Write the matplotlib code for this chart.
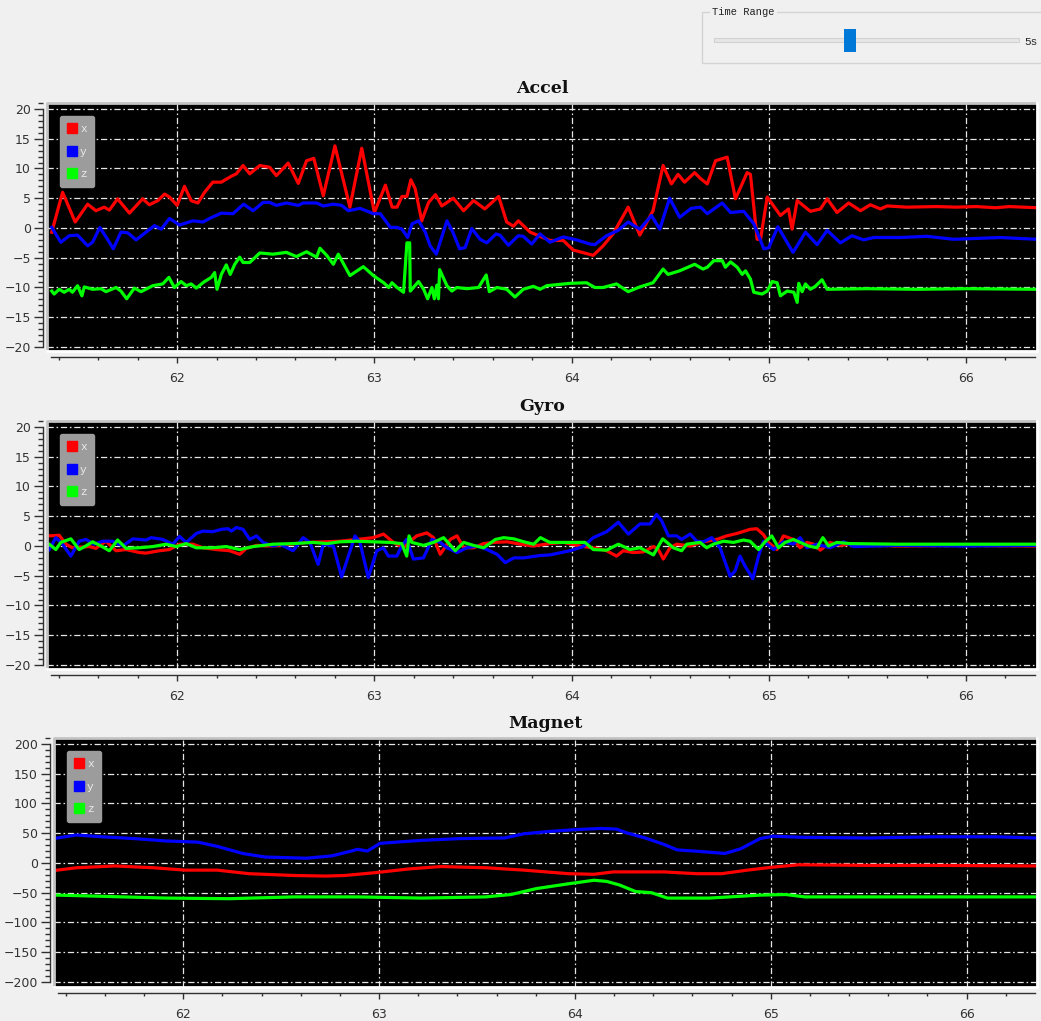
import matplotlib.pyplot as plt
from matplotlib.lines import Line2D
from matplotlib.patches import Rectangle
from matplotlib.ticker import MultipleLocator

# ---------------- accelerometer ----------------
acc_x_t = [61.364, 61.419, 61.483, 61.546, 61.588, 61.630, 61.656, 61.698, 61.758, 61.825,
           61.859, 61.902, 61.936, 61.961, 62.000, 62.037, 62.071, 62.105, 62.139, 62.181,
           62.224, 62.275, 62.300, 62.334, 62.368, 62.419, 62.469, 62.503, 62.563, 62.614,
           62.656, 62.693, 62.741, 62.800, 62.876, 62.936, 63.000, 63.056, 63.090, 63.115,
           63.140, 63.165, 63.185, 63.207, 63.240, 63.275, 63.310, 63.342, 63.400, 63.452,
           63.503, 63.560, 63.630, 63.671, 63.705, 63.730, 63.790, 63.890, 63.958, 64.008,
           64.110, 64.160, 64.210, 64.287, 64.346, 64.413, 64.464, 64.506, 64.540, 64.573,
           64.624, 64.654, 64.688, 64.730, 64.789, 64.831, 64.890, 64.907, 64.941, 64.958,
           64.992, 65.059, 65.100, 65.118, 65.144, 65.211, 65.262, 65.296, 65.346, 65.405,
           65.465, 65.515, 65.566, 65.600, 65.700, 65.850, 65.950, 66.050, 66.150, 66.220,
           66.360]
acc_x_v = [-0.7, 6.0, 1.0, 4.0, 2.9, 3.5, 3.0, 4.9, 2.5, 4.9,
           3.9, 4.6, 5.7, 5.2, 3.8, 7.0, 4.6, 4.2, 6.0, 7.7,
           7.7, 8.7, 9.1, 10.5, 9.1, 10.5, 10.2, 8.8, 10.9, 7.5,
           11.3, 11.7, 5.4, 13.8, 3.5, 13.4, 2.6, 7.2, 3.5, 3.5,
           5.3, 5.3, 8.1, 6.6, 1.2, 4.3, 5.6, 3.7, 5.0, 2.9,
           4.6, 3.2, 5.3, 1.0, 0.3, 1.2, -0.7, -2.1, -2.1, -3.7,
           -4.6, -3.0, -1.0, 3.5, -1.2, 2.9, 10.5, 7.4, 9.0, 7.7,
           9.3, 8.3, 7.4, 11.3, 11.9, 4.9, 9.3, 9.0, -1.9, -1.9,
           5.2, 2.1, 3.2, -0.2, 4.6, 2.8, 3.2, 4.9, 2.6, 4.2,
           2.9, 3.9, 3.2, 3.7, 3.5, 3.6, 3.5, 3.6, 3.4, 3.6,
           3.4]

acc_y_t = [61.364, 61.410, 61.453, 61.495, 61.546, 61.571, 61.608, 61.647, 61.676, 61.715,
           61.749, 61.792, 61.842, 61.885, 61.919, 61.961, 62.012, 62.080, 62.131, 62.164,
           62.224, 62.283, 62.337, 62.385, 62.436, 62.469, 62.503, 62.554, 62.614, 62.639,
           62.707, 62.741, 62.792, 62.834, 62.868, 62.927, 62.995, 63.030, 63.081, 63.115,
           63.140, 63.169, 63.191, 63.224, 63.258, 63.283, 63.314, 63.368, 63.398, 63.432,
           63.460, 63.494, 63.536, 63.570, 63.617, 63.637, 63.680, 63.730, 63.755, 63.798,
           63.840, 63.890, 63.958, 64.025, 64.093, 64.118, 64.177, 64.236, 64.287, 64.346,
           64.405, 64.447, 64.497, 64.548, 64.607, 64.654, 64.688, 64.764, 64.806, 64.873,
           64.924, 64.975, 65.000, 65.046, 65.123, 65.186, 65.245, 65.296, 65.363, 65.422,
           65.481, 65.532, 65.667, 65.802, 65.938, 66.174, 66.360]
acc_y_v = [0.1, -2.4, -1.3, -1.2, -3.0, -2.4, 0.1, -1.9, -3.5, -0.7,
           -0.8, -2.0, -0.7, 0.4, -0.2, 1.6, 0.5, 1.2, 1.0, 1.6,
           2.5, 2.4, 4.0, 2.9, 4.3, 4.3, 3.8, 4.2, 3.8, 4.2,
           4.2, 3.7, 4.0, 3.8, 2.9, 3.3, 2.4, 2.4, 0.1, 0.1,
           -0.2, -1.6, 0.7, 1.2, -0.7, -3.0, -4.4, 1.2, -0.7, -3.5,
           -3.3, -0.1, -1.9, -2.5, -1.0, -1.2, -2.9, -1.3, -1.4, -2.7,
           -1.0, -2.4, -1.5, -2.0, -2.7, -2.8, -1.3, -0.4, 1.0, -0.2,
           2.1, -0.2, 5.0, 1.8, 3.3, 3.5, 2.4, 4.2, 2.6, 2.8,
           0.7, -3.5, -3.3, 0.2, -4.1, -0.7, -2.8, -0.4, -2.5, -1.3,
           -2.0, -1.6, -1.6, -1.4, -1.9, -1.6, -1.9]

acc_z_t = [61.364, 61.376, 61.402, 61.427, 61.453, 61.469, 61.495, 61.517, 61.529, 61.571,
           61.614, 61.639, 61.690, 61.715, 61.744, 61.783, 61.817, 61.876, 61.927, 61.958,
           61.986, 62.020, 62.046, 62.071, 62.097, 62.139, 62.173, 62.190, 62.202, 62.224,
           62.249, 62.269, 62.292, 62.317, 62.334, 62.368, 62.419, 62.486, 62.554, 62.605,
           62.656, 62.707, 62.724, 62.758, 62.792, 62.817, 62.876, 62.944, 62.995, 63.047,
           63.073, 63.089, 63.115, 63.148, 63.165, 63.179, 63.182, 63.224, 63.250, 63.270,
           63.292, 63.304, 63.317, 63.325, 63.331, 63.368, 63.393, 63.418, 63.469, 63.528,
           63.567, 63.583, 63.621, 63.671, 63.713, 63.755, 63.806, 63.840, 63.874, 63.992,
           64.076, 64.118, 64.160, 64.228, 64.287, 64.346, 64.413, 64.464, 64.489, 64.548,
           64.624, 64.666, 64.688, 64.721, 64.764, 64.780, 64.806, 64.840, 64.865, 64.882,
           64.907, 64.924, 64.966, 64.992, 65.017, 65.042, 65.059, 65.093, 65.127, 65.144,
           65.152, 65.169, 65.186, 65.211, 65.236, 65.270, 65.296, 65.498, 65.752, 66.005,
           66.360]
acc_z_v = [-10.6, -11.1, -10.3, -10.8, -10.3, -10.8, -9.7, -11.4, -9.9, -10.3,
           -10.2, -10.7, -10.0, -10.6, -11.9, -10.1, -10.7, -9.7, -9.4, -8.3,
           -10.0, -9.0, -9.7, -9.4, -10.1, -9.0, -8.3, -7.5, -10.3, -7.8,
           -6.2, -7.8, -6.1, -4.9, -5.8, -5.8, -4.2, -4.4, -4.1, -4.8,
           -4.0, -4.9, -3.4, -4.6, -6.1, -4.4, -8.0, -6.5, -8.0, -9.2,
           -10.0, -9.2, -10.0, -10.8, -2.5, -2.5, -10.6, -9.0, -10.3, -11.9,
           -10.0, -11.9, -9.6, -11.9, -7.0, -9.7, -10.6, -10.0, -10.2, -10.0,
           -7.9, -10.7, -10.0, -10.3, -11.6, -10.3, -9.8, -10.3, -9.7, -9.3,
           -9.2, -10.0, -10.0, -9.4, -10.7, -9.9, -9.2, -6.9, -7.8, -7.2,
           -6.1, -6.9, -6.6, -5.5, -5.5, -6.6, -5.7, -6.6, -7.8, -7.2,
           -8.6, -10.8, -11.1, -10.6, -9.0, -9.2, -11.4, -10.6, -10.8, -12.5,
           -9.3, -10.7, -9.4, -10.3, -9.8, -8.7, -10.3, -10.2, -10.3, -10.2,
           -10.3]

# ---------------- gyroscope ----------------
gyr_x_t = [61.351, 61.402, 61.436, 61.469, 61.554, 61.588, 61.639, 61.690, 61.741, 61.808,
           61.842, 61.910, 61.961, 62.012, 62.080, 62.131, 62.198, 62.266, 62.317, 62.351,
           62.402, 62.486, 62.571, 62.656, 62.741, 62.825, 62.910, 62.995, 63.046, 63.097,
           63.147, 63.181, 63.215, 63.266, 63.300, 63.334, 63.385, 63.419, 63.453, 63.503,
           63.554, 63.605, 63.673, 63.741, 63.808, 63.890, 63.958, 64.042, 64.127, 64.178,
           64.228, 64.262, 64.313, 64.364, 64.415, 64.440, 64.465, 64.499, 64.533, 64.601,
           64.668, 64.736, 64.787, 64.838, 64.905, 64.939, 64.973, 64.998, 65.041, 65.074,
           65.125, 65.159, 65.193, 65.227, 65.261, 65.311, 65.362, 65.413, 65.650, 65.988,
           66.360]
gyr_x_v = [1.7, 1.8, 0.3, -0.3, -0.1, -0.4, 0.8, -0.8, -0.6, -1.1,
           -1.2, -0.8, -0.6, 0.3, 0.3, -0.3, -0.6, -0.8, -1.4, -0.4,
           0.1, 0.0, 0.3, 0.6, 0.7, 0.8, 1.1, 1.4, 2.0, 0.6,
           -0.3, 0.8, 1.7, 2.2, 1.4, -1.4, 1.1, 1.7, -0.3, -0.3,
           0.4, 0.6, 0.7, 0.3, 0.0, 0.4, 0.6, 0.0, -0.4, -0.8,
           -1.7, -0.8, -1.1, -1.0, -0.1, -0.6, -2.2, -0.3, 0.3, 0.0,
           0.7, 1.1, 1.7, 2.1, 2.8, 2.9, 1.9, 0.6, -0.6, 1.7,
           1.1, -0.3, 0.6, 0.3, -0.7, 0.6, 0.1, 0.3, 0.0, 0.1,
           0.0]

gyr_y_t = [61.351, 61.385, 61.419, 61.461, 61.503, 61.537, 61.580, 61.622, 61.673, 61.724,
           61.775, 61.842, 61.868, 61.927, 61.978, 62.012, 62.046, 62.097, 62.131, 62.181,
           62.224, 62.258, 62.275, 62.300, 62.334, 62.368, 62.402, 62.436, 62.486, 62.520,
           62.588, 62.639, 62.673, 62.715, 62.741, 62.792, 62.834, 62.868, 62.902, 62.927,
           62.969, 63.012, 63.046, 63.071, 63.114, 63.139, 63.164, 63.198, 63.249, 63.292,
           63.334, 63.368, 63.419, 63.469, 63.520, 63.571, 63.622, 63.664, 63.707, 63.758,
           63.842, 63.890, 63.992, 64.059, 64.110, 64.178, 64.237, 64.288, 64.347, 64.398,
           64.431, 64.457, 64.491, 64.533, 64.558, 64.601, 64.635, 64.668, 64.711, 64.753,
           64.804, 64.829, 64.854, 64.880, 64.919, 64.948, 64.973, 65.024, 65.074, 65.125,
           65.159, 65.193, 65.244, 65.311, 65.379, 65.430, 65.650, 65.988, 66.360]
gyr_y_v = [-0.6, 1.4, 0.3, -1.7, 0.8, 1.1, 0.3, 0.8, 0.8, 0.0,
           1.2, 1.0, 1.4, 1.1, 0.3, 1.6, 0.6, 2.1, 2.5, 2.4,
           2.8, 2.9, 2.5, 3.1, 2.8, 1.1, 1.7, 0.6, 0.0, 0.3,
           -0.8, 1.4, 0.6, -3.1, 0.3, 0.0, -5.2, -1.7, 1.7, 0.6,
           -5.3, -0.8, -0.3, -1.7, -1.7, 0.0, 1.1, -2.2, -2.0, 1.1,
           0.6, -0.3, -1.1, -0.3, 0.0, -0.6, -1.4, -2.8, -2.0, -2.0,
           -1.6, -1.5, -0.8, -0.1, 1.4, 2.4, 4.0, 2.0, 3.7, 3.7,
           5.3, 4.2, 1.7, 1.7, 1.1, 2.0, 0.8, 0.7, 1.4, -0.3,
           -5.1, -4.2, -1.7, -3.4, -5.5, -1.7, 0.8, -0.6, 0.7, 0.3,
           1.4, -0.3, 0.3, -0.3, 0.7, -0.1, 0.1, 0.0, 0.1]

gyr_z_t = [61.351, 61.385, 61.410, 61.461, 61.503, 61.537, 61.571, 61.614, 61.656, 61.698,
           61.741, 61.808, 61.876, 61.944, 61.995, 62.046, 62.097, 62.181, 62.249, 62.317,
           62.385, 62.486, 62.588, 62.690, 62.758, 62.825, 62.910, 62.995, 63.080, 63.139,
           63.164, 63.176, 63.190, 63.249, 63.300, 63.351, 63.410, 63.453, 63.503, 63.554,
           63.614, 63.656, 63.707, 63.758, 63.808, 63.842, 63.890, 64.068, 64.110, 64.178,
           64.237, 64.296, 64.347, 64.415, 64.462, 64.516, 64.558, 64.584, 64.651, 64.685,
           64.719, 64.770, 64.821, 64.871, 64.905, 64.948, 64.981, 65.015, 65.049, 65.083,
           65.125, 65.159, 65.201, 65.244, 65.274, 65.303, 65.345, 65.413, 65.650, 65.988,
           66.360]
gyr_z_v = [0.3, -0.6, 0.6, 1.2, -0.6, 0.0, 0.7, 0.0, -0.8, 1.0,
           -0.4, -0.3, -0.1, 0.3, -0.1, 0.4, -0.3, -0.3, -0.1, -0.6,
           -0.1, 0.3, 0.4, 0.6, 0.4, 0.7, 0.8, 0.7, 0.6, 0.4,
           -1.7, 1.7, 0.6, 0.1, 0.6, 1.4, -0.8, 0.6, 0.1, -0.3,
           1.1, 1.4, 1.2, 0.7, 0.3, 1.4, 0.6, 0.6, -0.6, -0.7,
           0.3, -0.6, -0.3, -1.5, 1.2, -0.3, -0.8, 0.3, 0.6, -0.3,
           0.3, 0.8, 0.6, 1.0, 0.8, -0.6, 0.7, 1.7, -0.3, 0.6,
           1.1, 0.6, 0.0, -0.3, 1.4, 0.0, 0.6, 0.4, 0.3, 0.3,
           0.3]

# ---------------- magnetometer ----------------
mag_x_t = [61.357, 61.455, 61.651, 61.847, 62.010, 62.173, 62.336, 62.564, 62.728, 62.826,
           62.989, 63.152, 63.315, 63.543, 63.739, 63.967, 64.098, 64.196, 64.457, 64.620,
           64.750, 64.881, 65.011, 65.142, 65.500, 65.827, 66.349]
mag_x_v = [-12, -8, -5, -8, -12, -12, -18, -21, -22, -21,
           -16, -10, -6, -8, -12, -18, -19, -15, -15, -18,
           -18, -12, -7, -3, -4, -4, -5]

mag_y_t = [61.357, 61.455, 61.586, 61.749, 61.912, 62.075, 62.173, 62.303, 62.418, 62.630,
           62.760, 62.858, 62.890, 62.940, 63.005, 63.087, 63.217, 63.413, 63.641, 63.739,
           63.870, 64.000, 64.130, 64.212, 64.261, 64.359, 64.457, 64.522, 64.653, 64.767,
           64.848, 64.946, 65.011, 65.175, 65.500, 65.827, 66.153, 66.349]
mag_y_v = [42, 47, 44, 41, 37, 35, 28, 16, 10, 8,
           12, 20, 23, 20, 33, 35, 38, 41, 42, 49,
           53, 56, 58, 57, 51, 42, 31, 22, 19, 16,
           24, 41, 45, 43, 42, 44, 44, 42]

mag_z_t = [61.357, 61.586, 61.912, 62.238, 62.564, 62.891, 63.217, 63.543, 63.674, 63.804,
           63.967, 64.098, 64.163, 64.228, 64.310, 64.392, 64.473, 64.685, 64.946, 65.077,
           65.175, 65.500, 66.349]
mag_z_v = [-54, -56, -59, -60, -57, -57, -59, -57, -53, -43,
           -35, -29, -31, -37, -48, -50, -59, -59, -54, -53,
           -57, -57, -57]

names = ["x", "y", "z"]
colors = ["#ff0000", "#0000ff", "#00ff00"]

W, H = 1041, 1021
fig = plt.figure(figsize=(W / 100, H / 100), dpi=100, facecolor="#f0f0f0")


def panel(box, title, series, ylim, yspan, ymajor, yminor):
    l, t, r, b = box
    ax = fig.add_axes([l / W, 1 - b / H, (r - l) / W, (b - t) / H], facecolor="black")
    for (tt, vv), c, n in zip(series, colors, names):
        ax.plot(tt, vv, color=c, lw=2.3, label=n, zorder=3)
    ax.set_xlim(61.34, 66.36)
    ax.set_ylim(*ylim)
    ax.xaxis.set_major_locator(MultipleLocator(1))
    ax.xaxis.set_minor_locator(MultipleLocator(0.2))
    ax.yaxis.set_major_locator(MultipleLocator(ymajor))
    ax.yaxis.set_minor_locator(MultipleLocator(yminor))
    ax.grid(True, which="major", color="#e6e6e6", lw=0.9, ls=(0, (5, 2.2, 1.3, 2.2)))
    ax.set_axisbelow(True)

    for s in ("top", "right"):
        ax.spines[s].set_visible(False)
    ax.spines["left"].set_position(("outward", 3))
    ax.spines["left"].set_bounds(-yspan, yspan)
    ax.spines["bottom"].set_position(("outward", 4.5))
    ax.spines["bottom"].set_bounds(61.36, 66.35)
    for s in ("left", "bottom"):
        ax.spines[s].set_color("#303030")
        ax.spines[s].set_linewidth(1.0)
    ax.tick_params(axis="y", which="major", length=6.5, width=1, color="#303030",
                   labelsize=9, labelcolor="#333333", pad=2)
    ax.tick_params(axis="y", which="minor", length=3.5, width=1, color="#303030")
    ax.tick_params(axis="x", which="major", length=4.5, width=1, color="#303030",
                   labelsize=9, labelcolor="#333333", pad=6)
    ax.tick_params(axis="x", which="minor", length=2.5, width=1, color="#303030")

    # sunken canvas frame
    ax.plot([0, 0, 1], [0, 1, 1], transform=ax.transAxes, color="#c4c4c4", lw=2,
            clip_on=False, zorder=6)
    ax.plot([0, 1, 1], [0, 0, 1], transform=ax.transAxes, color="#ffffff", lw=2,
            clip_on=False, zorder=6)

    ax.set_title(title, fontsize=12.5, fontweight="bold", family="DejaVu Serif",
                 color="#111111", pad=7)

    handles = [Line2D([], [], marker="s", ls="none", color=c, markersize=6.5) for c in colors]
    leg = ax.legend(handles, names, loc="upper left",
                    bbox_to_anchor=(13 / (r - l), 1 - 13 / (b - t)), borderaxespad=0,
                    fancybox=True, facecolor="#9c9c9c", edgecolor="#9c9c9c", framealpha=1,
                    handlelength=0.8, handletextpad=0.3, labelspacing=1.15, borderpad=0.7,
                    prop={"family": "Liberation Mono", "size": 8}, labelcolor="#ececec")
    leg.set_zorder(7)
    return ax


panel((47, 103, 1037, 351), "Accel",
      [(acc_x_t, acc_x_v), (acc_y_t, acc_y_v), (acc_z_t, acc_z_v)],
      (-20.67, 21.0), 20, 5, 1)
panel((47, 421, 1037, 669), "Gyro",
      [(gyr_x_t, gyr_x_v), (gyr_y_t, gyr_y_v), (gyr_z_t, gyr_z_v)],
      (-20.67, 21.0), 20, 5, 1)
panel((54, 738, 1037, 987), "Magnet",
      [(mag_x_t, mag_x_v), (mag_y_t, mag_y_v), (mag_z_t, mag_z_v)],
      (-208.4, 210.0), 200, 50, 10)

# time range group box with slider
fig.add_artist(Rectangle((702 / W, 1 - 63 / H), (W + 5 - 702) / W, 51 / H,
                         transform=fig.transFigure, fill=False, edgecolor="#d4d4d4", lw=1))
fig.text(712 / W, 1 - 12 / H, "Time Range", family="Liberation Mono", fontsize=7.5,
         color="#222222", ha="left", va="center",
         bbox=dict(facecolor="#f0f0f0", edgecolor="none", pad=1.5))
fig.add_artist(Rectangle((714 / W, 1 - 42 / H), (1019 - 714) / W, 4 / H,
                         transform=fig.transFigure, facecolor="#e6e6e6", edgecolor="#d2d2d2", lw=0.8))
fig.add_artist(Rectangle((844 / W, 1 - 52 / H), 12 / W, 23 / H,
                         transform=fig.transFigure, facecolor="#0078d7", edgecolor="none"))
fig.text(1024 / W, 1 - 42 / H, "5s", family="Liberation Mono", fontsize=8,
         color="#222222", ha="left", va="center")

fig.savefig("out.png", dpi=100, facecolor=fig.get_facecolor())
